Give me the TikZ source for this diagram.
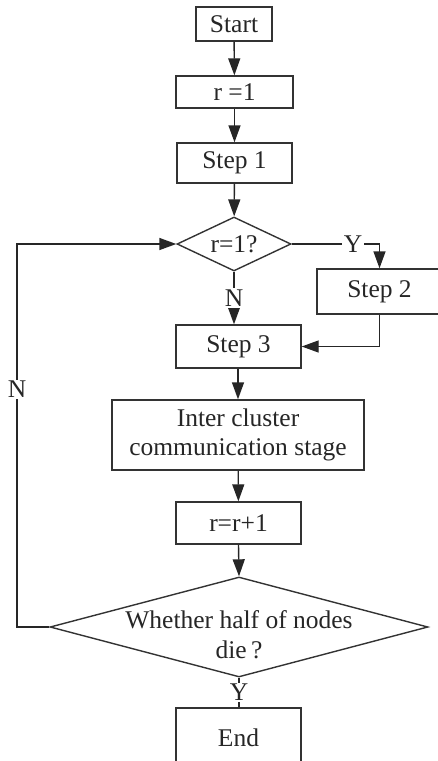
\documentclass[tikz,border=0pt]{standalone}
\usepackage{fontspec}
\setmainfont{Liberation Serif}
\usetikzlibrary{arrows.meta,shapes.geometric}
\begin{document}
\begin{tikzpicture}[x=1pt,y=-1pt,
  every node/.style={font=\fontsize{25.5}{29}\selectfont, text=black!85},
  box/.style={draw=black!80, line width=1.4pt, rectangle, inner sep=0pt, align=center},
  diam/.style={draw=black!80, line width=1.4pt, diamond, inner sep=0pt, aspect=2.1},
  lbl/.style={fill=white, inner sep=1.5pt},
  arr/.style={draw=black!85, line width=1.4pt, -{Triangle[length=17pt,width=12pt]}},
  ln/.style={draw=black!85, line width=1.4pt}]
\useasboundingbox (0,0) rectangle (438,761);
\node[box, minimum width=76pt, minimum height=34pt] (start) at (234,24) {Start};
\node[box, minimum width=117pt, minimum height=32pt] (r1) at (234.5,92) {r =1};
\node[box, minimum width=115pt, minimum height=40pt] (s1) at (234.5,163) {Step 1};
\node[diam, minimum width=114pt, minimum height=54pt] (d1) at (234,244) {r=1?};
\node[box, minimum width=125pt, minimum height=45pt] (s2) at (379.5,291.5) {Step 2};
\node[box, minimum width=125pt, minimum height=43pt] (s3) at (238.5,346.5) {Step 3};
\node[box, minimum width=252pt, minimum height=70pt] (ic) at (238,435) {Inter cluster\\communication stage};
\node[box, minimum width=125pt, minimum height=42pt] (rr) at (238.5,523) {r=r+1};
\node[diam, minimum width=378pt, minimum height=100pt,
  label={[align=center, yshift=-8pt, font=\fontsize{25.5}{30}\selectfont, text=black!85]center:Whether half of nodes\\die\,?}] (dec) at (239,627) {};
\node[box, minimum width=125pt, minimum height=60pt] (end) at (238.5,738) {End};
\coordinate (lb) at (17,627);
\draw[arr] (start) -- (r1);
\draw[arr] (r1) -- (s1);
\draw[arr] (s1) -- (d1);
\draw[arr] (d1.east) -- node[lbl, pos=0.7] {Y} (d1.east -| s2.north) -- (s2.north);
\draw[arr] (d1.south) -- node[lbl, pos=0.5] {N} (d1.south |- s3.north);
\draw[arr] (s2.south) |- (s3.east);
\draw[arr] (s3.south -| ic.north) -- (ic.north);
\draw[arr] (ic) -- (rr);
\draw[arr] (rr.south) -- (dec.north);
\draw[arr] (dec.west) -- (lb) |- node[lbl, pos=0.31] {N} (d1.west);
\draw[ln] (dec.south) -- node[lbl, pos=0.5] {Y} (dec.south |- end.north);
\end{tikzpicture}
\end{document}
